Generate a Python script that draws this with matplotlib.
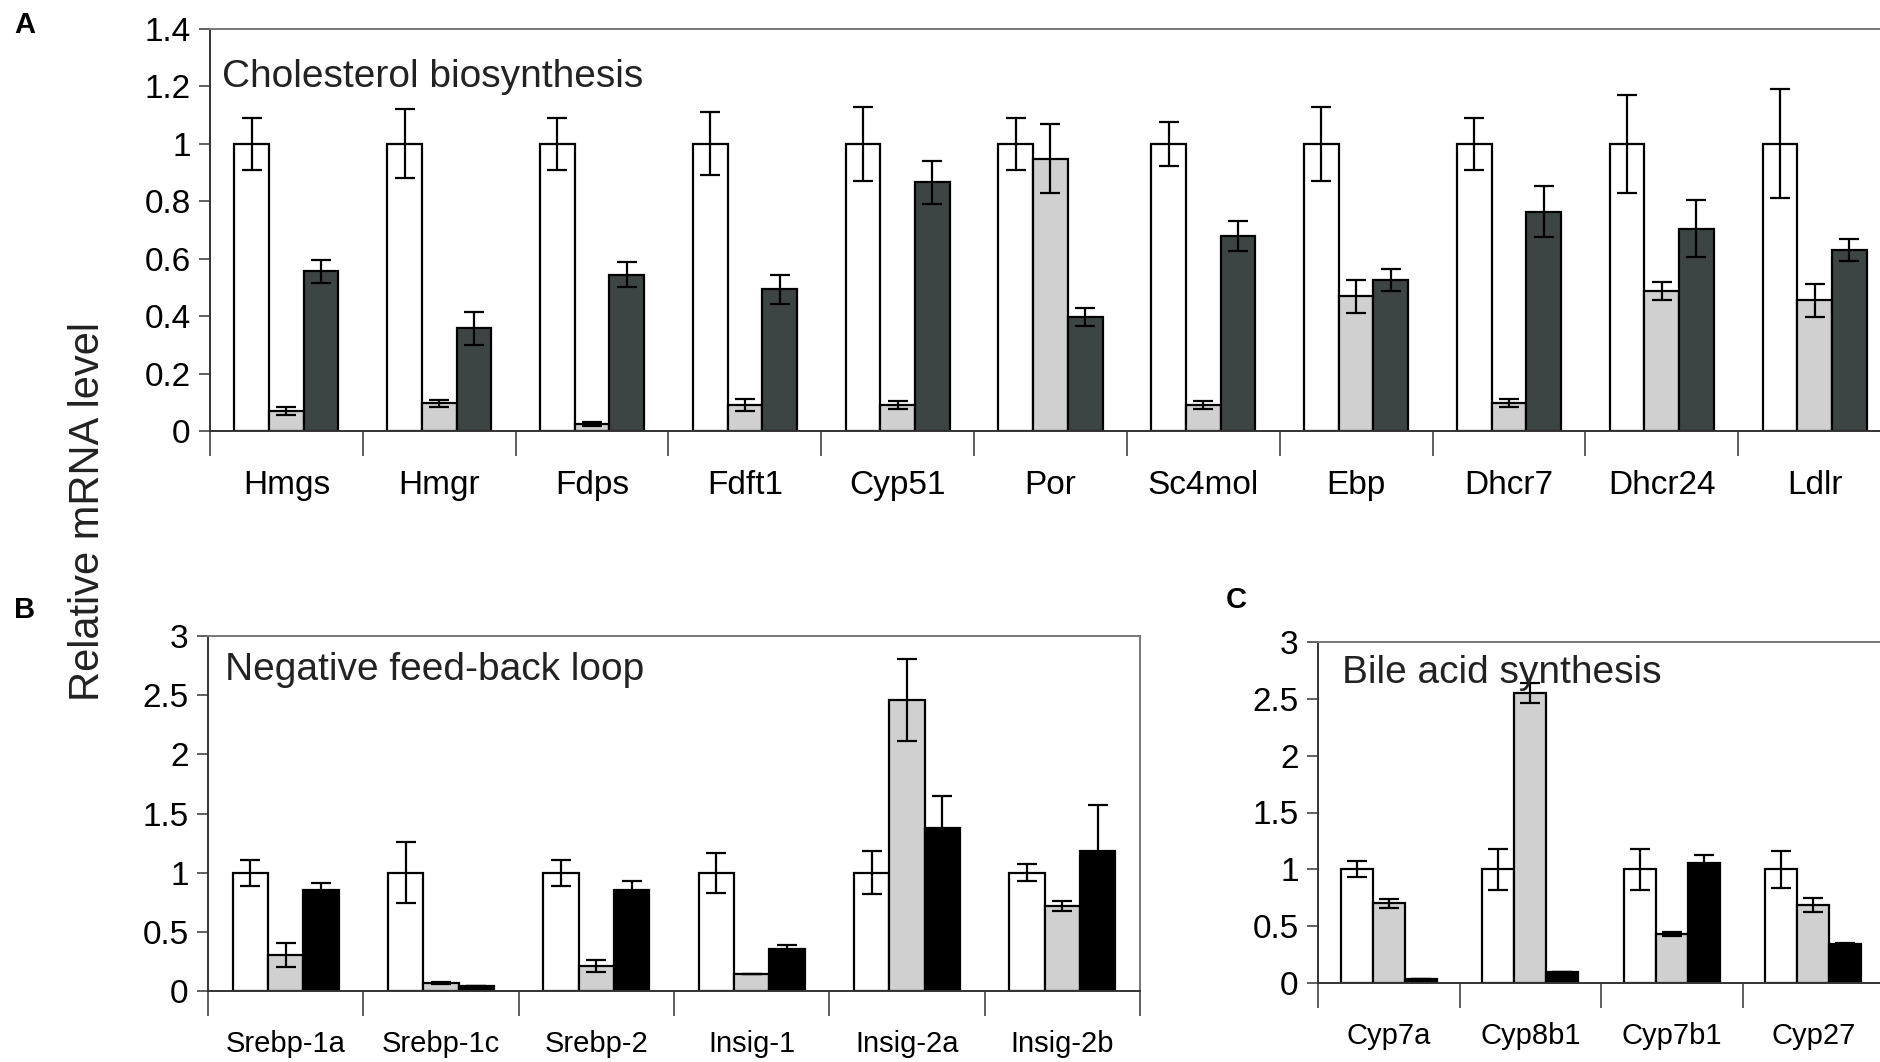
import numpy as np
import matplotlib
matplotlib.use("Agg")
import matplotlib.pyplot as plt

plt.rcParams['font.family'] = ['Liberation Sans Narrow', 'Liberation Sans', 'DejaVu Sans']

# Panel A - cholesterol biosynthesis
genes_a = ['Hmgs', 'Hmgr', 'Fdps', 'Fdft1', 'Cyp51', 'Por', 'Sc4mol', 'Ebp', 'Dhcr7', 'Dhcr24', 'Ldlr']
ctrl_a = [1, 1, 1, 1, 1, 1, 1, 1, 1, 1, 1]
ctrl_a_err = [0.09, 0.12, 0.09, 0.11, 0.128, 0.09, 0.077, 0.128, 0.09, 0.17, 0.19]
gray_a = [0.069, 0.096, 0.025, 0.09, 0.09, 0.949, 0.09, 0.469, 0.096, 0.488, 0.455]
gray_a_err = [0.013, 0.013, 0.006, 0.02, 0.014, 0.12, 0.014, 0.057, 0.014, 0.031, 0.058]
dark_a = [0.556, 0.358, 0.544, 0.494, 0.866, 0.398, 0.679, 0.526, 0.764, 0.705, 0.629]
dark_a_err = [0.04, 0.058, 0.044, 0.05, 0.075, 0.032, 0.052, 0.039, 0.089, 0.1, 0.038]

# Panel B - negative feed-back loop
genes_b = ['Srebp-1a', 'Srebp-1c', 'Srebp-2', 'Insig-1', 'Insig-2a', 'Insig-2b']
ctrl_b = [1, 1, 1, 1, 1, 1]
ctrl_b_err = [0.11, 0.26, 0.11, 0.17, 0.18, 0.07]
gray_b = [0.305, 0.067, 0.21, 0.144, 2.459, 0.719]
gray_b_err = [0.1, 0.01, 0.05, 0.0, 0.35, 0.045]
black_b = [0.85, 0.04, 0.85, 0.358, 1.377, 1.185]
black_b_err = [0.06, 0.0, 0.08, 0.03, 0.27, 0.39]

# Panel C - bile acid synthesis
genes_c = ['Cyp7a', 'Cyp8b1', 'Cyp7b1', 'Cyp27']
ctrl_c = [1, 1, 1, 1]
ctrl_c_err = [0.07, 0.18, 0.18, 0.165]
gray_c = [0.702, 2.549, 0.433, 0.685]
gray_c_err = [0.04, 0.09, 0.02, 0.06]
black_c = [0.032, 0.097, 1.059, 0.345]
black_c_err = [0.0, 0.0, 0.07, 0.01]

W, H = 1881, 1062
fig = plt.figure(figsize=(W / 100, H / 100), dpi=100)


def px_axes(left, top, right, bottom):
    return fig.add_axes([left / W, 1 - bottom / H, (right - left) / W, (bottom - top) / H])


def draw_panel(ax, genes, series, colors, ylim, yticks, ylabels, title, title_off, xfs):
    n = len(genes)
    x = np.arange(n)
    w = 0.227
    for k, (vals, errs) in enumerate(series):
        ax.bar(x + (k - 1) * w, vals, w, color=colors[k], edgecolor='black', linewidth=1.6, zorder=2)
        ax.errorbar(x + (k - 1) * w, vals, yerr=errs, fmt='none', ecolor='black',
                    elinewidth=1.6, capsize=7, capthick=1.6, zorder=3)
    ax.set_xlim(-0.5, n - 0.5)
    ax.set_ylim(*ylim)
    ax.set_yticks(yticks)
    ax.set_yticklabels(ylabels, fontsize=24)
    ax.set_xticks(np.arange(n + 1) - 0.5)
    ax.set_xticklabels([])
    ax.set_xticks(x, minor=True)
    ax.set_xticklabels(genes, minor=True, fontsize=xfs)
    ax.tick_params(axis='x', which='major', direction='out', length=18, width=1.2, color='#444444')
    ax.tick_params(axis='x', which='minor', length=0, pad=28)
    ax.tick_params(axis='y', direction='out', length=8, width=1.2, color='#444444', pad=6)
    for s in ['top', 'right']:
        ax.spines[s].set_color('#777777')
        ax.spines[s].set_linewidth(1.4)
    for s in ['left', 'bottom']:
        ax.spines[s].set_color('#333333')
        ax.spines[s].set_linewidth(1.4)
    ax.annotate(title, xy=(0, 1), xycoords='axes fraction', xytext=title_off,
                textcoords='offset pixels', fontsize=28, color='#222222',
                ha='left', va='center')


ax_a = px_axes(210, 29, 1891, 431)
draw_panel(ax_a, genes_a,
           [(ctrl_a, ctrl_a_err), (gray_a, gray_a_err), (dark_a, dark_a_err)],
           ['white', '#d0d0d0', '#3d4544'],
           (0, 1.4), np.arange(0, 1.41, 0.2),
           ['0', '0.2', '0.4', '0.6', '0.8', '1', '1.2', '1.4'],
           'Cholesterol biosynthesis', (12, -48), 24)

ax_b = px_axes(208, 636, 1140, 991)
draw_panel(ax_b, genes_b,
           [(ctrl_b, ctrl_b_err), (gray_b, gray_b_err), (black_b, black_b_err)],
           ['white', '#d0d0d0', 'black'],
           (0, 3), np.arange(0, 3.01, 0.5),
           ['0', '0.5', '1', '1.5', '2', '2.5', '3'],
           'Negative feed-back loop', (17, -34), 21)

ax_c = px_axes(1318, 642, 1884, 983)
draw_panel(ax_c, genes_c,
           [(ctrl_c, ctrl_c_err), (gray_c, gray_c_err), (black_c, black_c_err)],
           ['white', '#d0d0d0', 'black'],
           (0, 3), np.arange(0, 3.01, 0.5),
           ['0', '0.5', '1', '1.5', '2', '2.5', '3'],
           'Bile acid synthesis', (24, -31), 21)

fig.text(88 / W, 1 - 512 / H, 'Relative mRNA level', rotation=90, fontsize=30,
         color='#222222', ha='center', va='center')
bold_fam = ['Liberation Sans', 'DejaVu Sans']
fig.text(14 / W, 1 - 25 / H, 'A', fontsize=21, fontweight='bold', family=bold_fam, va='center')
fig.text(14 / W, 1 - 610 / H, 'B', fontsize=21, fontweight='bold', family=bold_fam, va='center')
fig.text(1226 / W, 1 - 600 / H, 'C', fontsize=21, fontweight='bold', family=bold_fam, va='center')

fig.savefig('out.png', dpi=100)
